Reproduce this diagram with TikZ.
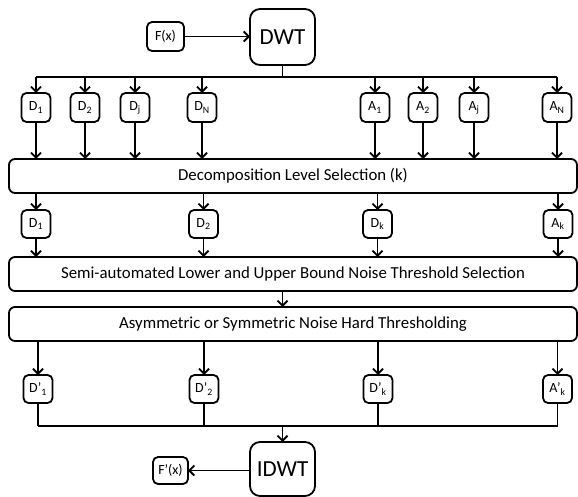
\documentclass[tikz,border=0pt]{standalone}
\usepackage{fontspec}
\setmainfont{Carlito}
\usetikzlibrary{arrows.meta}
\begin{document}
\begin{tikzpicture}[x=1pt,y=-1pt,
  every node/.style={inner sep=0pt, outer sep=0pt},
  line/.style={line width=1.8pt},
  arr/.style={line width=1.8pt, -{Straight Barb[length=5pt,width=10pt,line width=1.8pt]}},
  small/.style={draw, line width=1.8pt, rounded corners=5pt, minimum width=29pt, minimum height=29pt, font=\fontsize{14}{16}\selectfont},
  big/.style={draw, line width=1.8pt, rounded corners=6pt, minimum width=568pt, minimum height=34pt, font=\fontsize{16.8}{19}\selectfont},
  main/.style={draw, line width=1.8pt, rounded corners=10pt, minimum width=65pt, minimum height=56pt, font=\fontsize{23}{26}\selectfont}
]
\useasboundingbox (0,0) rectangle (578,497);
% top
\node[small, minimum width=37pt] (fx) at (165.5,36.5) {F(x)};
\node[main] (dwt) at (282.5,37) {DWT};
\draw[arr] (fx.east) -- (fx.east -| dwt.west);
% row 1
\coordinate (bus1) at (0,77);
\node[small] (d1) at (36,107.5) {D\textsubscript{1}};
\node[small] (d2) at (85,107.5) {D\textsubscript{2}};
\node[small] (dj) at (135,107.5) {D\textsubscript{j}};
\node[small] (dn) at (202,107.5) {D\textsubscript{N}};
\node[small] (a1) at (375,107.5) {A\textsubscript{1}};
\node[small] (a2) at (423,107.5) {A\textsubscript{2}};
\node[small] (aj) at (474,107.5) {A\textsubscript{j}};
\node[small] (an) at (557,107.5) {A\textsubscript{N}};
\draw[line] (dwt.south) -- (dwt.south |- bus1);
\draw[line] (d1 |- bus1) -- (an |- bus1);
\foreach \n in {d1,d2,dj,dn,a1,a2,aj,an} {
  \draw[arr] (\n |- bus1) -- (\n.north);
}
% box 1
\node[big] (b1) at (293,176) {Decomposition Level Selection (k)};
\foreach \n in {d1,d2,dj,dn,a1,a2,aj,an} {
  \draw[arr] (\n.south) -- (\n.south |- b1.north);
}
% row 2
\node[small, minimum height=28pt] (e1) at (36,224) {D\textsubscript{1}};
\node[small, minimum height=28pt] (e2) at (203.5,224) {D\textsubscript{2}};
\node[small, minimum height=28pt] (ek) at (377.5,224) {D\textsubscript{k}};
\node[small, minimum height=28pt] (ea) at (558,224) {A\textsubscript{k}};
\node[big] (b2) at (293,274) {Semi-automated Lower and Upper Bound Noise Threshold Selection};
\foreach \n in {e1,e2,ek,ea} {
  \draw[arr] (\n |- b1.south) -- (\n.north);
  \draw[arr] (\n.south) -- (\n.south |- b2.north);
}
% box 3
\node[big] (b3) at (293,324) {Asymmetric or Symmetric Noise Hard Thresholding};
\draw[arr] (dwt.south |- b2.south) -- (dwt.south |- b3.north);
% row 3
\coordinate (bus2) at (0,426);
\node[small, minimum height=28pt] (f1) at (38,389) {D’\textsubscript{1}};
\node[small, minimum height=28pt] (f2) at (204,389) {D’\textsubscript{2}};
\node[small, minimum height=28pt] (fk) at (378,389) {D’\textsubscript{k}};
\node[small, minimum height=28pt] (fa) at (557.5,389) {A’\textsubscript{k}};
\foreach \n in {f1,f2,fk,fa} {
  \draw[arr] (\n |- b3.south) -- (\n.north);
  \draw[line] (\n.south) -- (\n.south |- bus2);
}
\draw[line] (f1 |- bus2) -- (fa |- bus2);
% bottom
\node[main, minimum height=54pt] (idwt) at (282.5,469) {IDWT};
\node[small, minimum width=35pt, minimum height=27pt] (fpx) at (170.5,470.5) {F’(x)};
\draw[arr] (idwt |- bus2) -- (idwt.north);
\draw[arr] (idwt.west |- fpx) -- (fpx.east);
\end{tikzpicture}
\end{document}
